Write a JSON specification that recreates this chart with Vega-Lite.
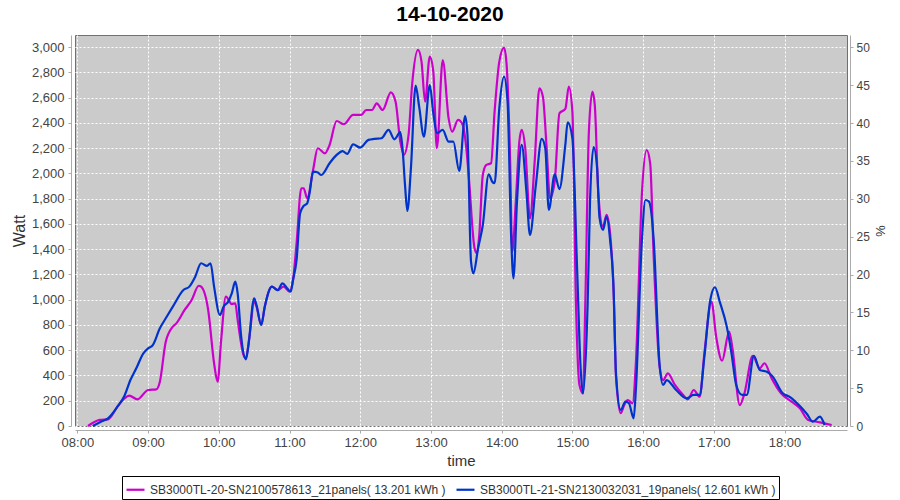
{
  "$schema": "https://vega.github.io/schema/vega-lite/v6.json",
  "width": 772,
  "height": 391,
  "autosize": {"type": "none"},
  "padding": {"left": 75, "top": 35, "right": 53, "bottom": 74},
  "background": "white",
  "title": {"text": "14-10-2020", "font": "Liberation Sans", "fontSize": 21, "fontWeight": "bold", "color": "black", "anchor": "middle", "offset": 10, "dx": -11},
  "config": {
    "font": "Liberation Sans",
    "view": {"fill": "#cbcbcb", "stroke": "#707070", "strokeWidth": 1}
  },
  "resolve": {"scale": {"y": "independent"}},
  "layer": [
    {
      "data": {
        "values": [
          {"s":"A","t":"08:09","w":0},{"s":"A","t":"08:19","w":48},{"s":"A","t":"08:26","w":53},{"s":"A","t":"08:34","w":153},{"s":"A","t":"08:40","w":219},{"s":"A","t":"08:44","w":240},{"s":"A","t":"08:51","w":211},{"s":"A","t":"09:00","w":285},{"s":"A","t":"09:07","w":290},{"s":"A","t":"09:10","w":351},{"s":"A","t":"09:15","w":668},{"s":"A","t":"09:21","w":787},{"s":"A","t":"09:24","w":813},{"s":"A","t":"09:31","w":919},{"s":"A","t":"09:37","w":998},{"s":"A","t":"09:43","w":1111},{"s":"A","t":"09:45","w":1104},{"s":"A","t":"09:51","w":919},{"s":"A","t":"09:56","w":497},{"s":"A","t":"09:59","w":351},{"s":"A","t":"10:02","w":681},{"s":"A","t":"10:06","w":1024},{"s":"A","t":"10:11","w":966},{"s":"A","t":"10:14","w":972},{"s":"A","t":"10:16","w":840},{"s":"A","t":"10:21","w":562},{"s":"A","t":"10:23","w":536},{"s":"A","t":"10:26","w":707},{"s":"A","t":"10:30","w":985},{"s":"A","t":"10:32","w":945},{"s":"A","t":"10:36","w":800},{"s":"A","t":"10:39","w":945},{"s":"A","t":"10:45","w":1104},{"s":"A","t":"10:50","w":1077},{"s":"A","t":"10:55","w":1104},{"s":"A","t":"11:00","w":1064},{"s":"A","t":"11:03","w":1157},{"s":"A","t":"11:06","w":1447},{"s":"A","t":"11:10","w":1883},{"s":"A","t":"11:12","w":1883},{"s":"A","t":"11:15","w":1804},{"s":"A","t":"11:20","w":2028},{"s":"A","t":"11:24","w":2200},{"s":"A","t":"11:30","w":2160},{"s":"A","t":"11:34","w":2226},{"s":"A","t":"11:40","w":2416},{"s":"A","t":"11:46","w":2390},{"s":"A","t":"11:54","w":2464},{"s":"A","t":"12:01","w":2464},{"s":"A","t":"12:05","w":2503},{"s":"A","t":"12:10","w":2503},{"s":"A","t":"12:14","w":2556},{"s":"A","t":"12:19","w":2503},{"s":"A","t":"12:26","w":2643},{"s":"A","t":"12:30","w":2569},{"s":"A","t":"12:34","w":2252},{"s":"A","t":"12:37","w":2147},{"s":"A","t":"12:41","w":2305},{"s":"A","t":"12:44","w":2701},{"s":"A","t":"12:49","w":2979},{"s":"A","t":"12:52","w":2886},{"s":"A","t":"12:55","w":2569},{"s":"A","t":"12:59","w":2926},{"s":"A","t":"13:02","w":2807},{"s":"A","t":"13:05","w":2200},{"s":"A","t":"13:10","w":2899},{"s":"A","t":"13:15","w":2437},{"s":"A","t":"13:18","w":2331},{"s":"A","t":"13:23","w":2424},{"s":"A","t":"13:27","w":2384},{"s":"A","t":"13:30","w":2200},{"s":"A","t":"13:32","w":1988},{"s":"A","t":"13:37","w":1408},{"s":"A","t":"13:39","w":1368},{"s":"A","t":"13:41","w":1513},{"s":"A","t":"13:44","w":1988},{"s":"A","t":"13:47","w":2068},{"s":"A","t":"13:51","w":2081},{"s":"A","t":"13:54","w":2490},{"s":"A","t":"13:58","w":2886},{"s":"A","t":"14:02","w":2997},{"s":"A","t":"14:04","w":2886},{"s":"A","t":"14:07","w":2173},{"s":"A","t":"14:09","w":1381},{"s":"A","t":"14:12","w":1777},{"s":"A","t":"14:15","w":2252},{"s":"A","t":"14:17","w":2345},{"s":"A","t":"14:20","w":2200},{"s":"A","t":"14:24","w":1645},{"s":"A","t":"14:28","w":2094},{"s":"A","t":"14:32","w":2675},{"s":"A","t":"14:35","w":2609},{"s":"A","t":"14:38","w":2226},{"s":"A","t":"14:41","w":1804},{"s":"A","t":"14:45","w":1935},{"s":"A","t":"14:49","w":2477},{"s":"A","t":"14:54","w":2511},{"s":"A","t":"14:57","w":2688},{"s":"A","t":"15:00","w":2490},{"s":"A","t":"15:03","w":985},{"s":"A","t":"15:06","w":325},{"s":"A","t":"15:09","w":259},{"s":"A","t":"15:11","w":985},{"s":"A","t":"15:14","w":2331},{"s":"A","t":"15:17","w":2648},{"s":"A","t":"15:19","w":2543},{"s":"A","t":"15:22","w":1843},{"s":"A","t":"15:26","w":1579},{"s":"A","t":"15:29","w":1672},{"s":"A","t":"15:32","w":1526},{"s":"A","t":"15:35","w":1051},{"s":"A","t":"15:37","w":391},{"s":"A","t":"15:41","w":101},{"s":"A","t":"15:44","w":166},{"s":"A","t":"15:47","w":206},{"s":"A","t":"15:51","w":180},{"s":"A","t":"15:54","w":523},{"s":"A","t":"15:59","w":1843},{"s":"A","t":"16:03","w":2186},{"s":"A","t":"16:06","w":2081},{"s":"A","t":"16:09","w":1341},{"s":"A","t":"16:14","w":470},{"s":"A","t":"16:17","w":364},{"s":"A","t":"16:21","w":417},{"s":"A","t":"16:27","w":325},{"s":"A","t":"16:34","w":246},{"s":"A","t":"16:38","w":211},{"s":"A","t":"16:43","w":285},{"s":"A","t":"16:48","w":232},{"s":"A","t":"16:52","w":576},{"s":"A","t":"16:58","w":985},{"s":"A","t":"17:02","w":707},{"s":"A","t":"17:07","w":517},{"s":"A","t":"17:13","w":747},{"s":"A","t":"17:16","w":602},{"s":"A","t":"17:22","w":166},{"s":"A","t":"17:26","w":259},{"s":"A","t":"17:33","w":555},{"s":"A","t":"17:39","w":457},{"s":"A","t":"17:43","w":497},{"s":"A","t":"17:49","w":378},{"s":"A","t":"17:57","w":259},{"s":"A","t":"18:06","w":193},{"s":"A","t":"18:13","w":140},{"s":"A","t":"18:20","w":48},{"s":"A","t":"18:27","w":34},{"s":"A","t":"18:34","w":21},{"s":"A","t":"18:40","w":8},
          {"s":"B","t":"08:13","w":0},{"s":"B","t":"08:20","w":34},{"s":"B","t":"08:26","w":61},{"s":"B","t":"08:34","w":153},{"s":"B","t":"08:40","w":240},{"s":"B","t":"08:45","w":364},{"s":"B","t":"08:50","w":457},{"s":"B","t":"08:56","w":576},{"s":"B","t":"09:00","w":615},{"s":"B","t":"09:04","w":641},{"s":"B","t":"09:10","w":774},{"s":"B","t":"09:15","w":853},{"s":"B","t":"09:21","w":945},{"s":"B","t":"09:30","w":1077},{"s":"B","t":"09:35","w":1104},{"s":"B","t":"09:40","w":1183},{"s":"B","t":"09:45","w":1289},{"s":"B","t":"09:50","w":1268},{"s":"B","t":"09:53","w":1289},{"s":"B","t":"09:56","w":1104},{"s":"B","t":"10:01","w":879},{"s":"B","t":"10:04","w":945},{"s":"B","t":"10:08","w":985},{"s":"B","t":"10:11","w":1051},{"s":"B","t":"10:14","w":1143},{"s":"B","t":"10:16","w":1051},{"s":"B","t":"10:19","w":707},{"s":"B","t":"10:23","w":528},{"s":"B","t":"10:25","w":628},{"s":"B","t":"10:30","w":1012},{"s":"B","t":"10:32","w":958},{"s":"B","t":"10:36","w":800},{"s":"B","t":"10:39","w":945},{"s":"B","t":"10:45","w":1104},{"s":"B","t":"10:50","w":1077},{"s":"B","t":"10:54","w":1130},{"s":"B","t":"10:58","w":1091},{"s":"B","t":"11:01","w":1064},{"s":"B","t":"11:03","w":1157},{"s":"B","t":"11:06","w":1315},{"s":"B","t":"11:09","w":1685},{"s":"B","t":"11:12","w":1743},{"s":"B","t":"11:15","w":1764},{"s":"B","t":"11:17","w":1843},{"s":"B","t":"11:20","w":2015},{"s":"B","t":"11:24","w":2007},{"s":"B","t":"11:27","w":1988},{"s":"B","t":"11:34","w":2081},{"s":"B","t":"11:40","w":2147},{"s":"B","t":"11:45","w":2178},{"s":"B","t":"11:49","w":2155},{"s":"B","t":"11:54","w":2231},{"s":"B","t":"12:00","w":2205},{"s":"B","t":"12:07","w":2266},{"s":"B","t":"12:12","w":2274},{"s":"B","t":"12:18","w":2279},{"s":"B","t":"12:24","w":2345},{"s":"B","t":"12:29","w":2271},{"s":"B","t":"12:34","w":2327},{"s":"B","t":"12:36","w":2186},{"s":"B","t":"12:38","w":1909},{"s":"B","t":"12:40","w":1703},{"s":"B","t":"12:43","w":2041},{"s":"B","t":"12:47","w":2696},{"s":"B","t":"12:50","w":2530},{"s":"B","t":"12:54","w":2292},{"s":"B","t":"12:59","w":2701},{"s":"B","t":"13:02","w":2477},{"s":"B","t":"13:05","w":2319},{"s":"B","t":"13:10","w":2345},{"s":"B","t":"13:15","w":2252},{"s":"B","t":"13:19","w":2252},{"s":"B","t":"13:24","w":2020},{"s":"B","t":"13:29","w":2455},{"s":"B","t":"13:31","w":2305},{"s":"B","t":"13:34","w":1302},{"s":"B","t":"13:36","w":1209},{"s":"B","t":"13:40","w":1408},{"s":"B","t":"13:44","w":1592},{"s":"B","t":"13:49","w":1994},{"s":"B","t":"13:52","w":1935},{"s":"B","t":"13:54","w":1923},{"s":"B","t":"13:58","w":2517},{"s":"B","t":"14:02","w":2767},{"s":"B","t":"14:05","w":2569},{"s":"B","t":"14:08","w":1513},{"s":"B","t":"14:10","w":1170},{"s":"B","t":"14:13","w":1777},{"s":"B","t":"14:17","w":2226},{"s":"B","t":"14:21","w":1856},{"s":"B","t":"14:24","w":1513},{"s":"B","t":"14:29","w":1909},{"s":"B","t":"14:34","w":2274},{"s":"B","t":"14:37","w":2200},{"s":"B","t":"14:40","w":1711},{"s":"B","t":"14:45","w":1994},{"s":"B","t":"14:49","w":1877},{"s":"B","t":"14:54","w":2226},{"s":"B","t":"14:56","w":2406},{"s":"B","t":"15:00","w":2279},{"s":"B","t":"15:04","w":1249},{"s":"B","t":"15:07","w":457},{"s":"B","t":"15:09","w":259},{"s":"B","t":"15:13","w":985},{"s":"B","t":"15:15","w":1790},{"s":"B","t":"15:18","w":2210},{"s":"B","t":"15:21","w":2040},{"s":"B","t":"15:23","w":1650},{"s":"B","t":"15:26","w":1553},{"s":"B","t":"15:29","w":1658},{"s":"B","t":"15:32","w":1473},{"s":"B","t":"15:35","w":1077},{"s":"B","t":"15:37","w":417},{"s":"B","t":"15:41","w":127},{"s":"B","t":"15:45","w":193},{"s":"B","t":"15:48","w":180},{"s":"B","t":"15:52","w":61},{"s":"B","t":"15:54","w":311},{"s":"B","t":"15:59","w":1473},{"s":"B","t":"16:02","w":1790},{"s":"B","t":"16:05","w":1777},{"s":"B","t":"16:09","w":1473},{"s":"B","t":"16:14","w":483},{"s":"B","t":"16:17","w":325},{"s":"B","t":"16:20","w":364},{"s":"B","t":"16:28","w":285},{"s":"B","t":"16:37","w":219},{"s":"B","t":"16:43","w":246},{"s":"B","t":"16:48","w":246},{"s":"B","t":"16:52","w":549},{"s":"B","t":"16:57","w":998},{"s":"B","t":"17:01","w":1099},{"s":"B","t":"17:05","w":985},{"s":"B","t":"17:11","w":787},{"s":"B","t":"17:15","w":576},{"s":"B","t":"17:19","w":325},{"s":"B","t":"17:24","w":246},{"s":"B","t":"17:28","w":246},{"s":"B","t":"17:34","w":555},{"s":"B","t":"17:39","w":444},{"s":"B","t":"17:45","w":430},{"s":"B","t":"17:50","w":391},{"s":"B","t":"17:58","w":264},{"s":"B","t":"18:05","w":227},{"s":"B","t":"18:13","w":158},{"s":"B","t":"18:19","w":95},{"s":"B","t":"18:24","w":34},{"s":"B","t":"18:30","w":74},{"s":"B","t":"18:34","w":8}
        ],
        "format": {"parse": {"t": "date:'%H:%M'"}}
      },
      "mark": {"type": "line", "interpolate": "monotone", "strokeWidth": 2.2},
      "encoding": {
        "x": {
          "field": "t", "type": "temporal",
          "scale": {"domain": [{"year": 1900, "month": 1, "date": 1, "hours": 7, "minutes": 58}, {"year": 1900, "month": 1, "date": 1, "hours": 18, "minutes": 53}]},
          "axis": {
            "title": "time", "format": "%H:%M", "tickCount": 11,
            "offset": 4, "domainColor": "#aaaaaa", "tickColor": "#aaaaaa", "tickSize": 3,
            "labelFontSize": 13, "labelColor": "#444444", "labelPadding": 3,
            "titleFontSize": 15, "titleFontWeight": "normal", "titleColor": "#333333", "titlePadding": 4,
            "grid": true, "gridColor": "#ffffff", "gridDash": [2, 2], "gridWidth": 1
          }
        },
        "y": {
          "field": "w", "type": "quantitative",
          "scale": {"domain": [0, 3097], "nice": false},
          "axis": {
            "title": "Watt", "values": [0,200,400,600,800,1000,1200,1400,1600,1800,2000,2200,2400,2600,2800,3000],
            "format": ",d", "offset": 4, "domainColor": "#aaaaaa", "tickColor": "#aaaaaa", "tickSize": 3,
            "labelFontSize": 13, "labelColor": "#444444", "labelPadding": 4,
            "titleFontSize": 16, "titleFontWeight": "normal", "titleColor": "#333333", "titlePadding": 4,
            "grid": true, "gridColor": "#ffffff", "gridDash": [2, 2], "gridWidth": 1
          }
        },
        "color": {
          "field": "s", "type": "nominal",
          "scale": {"domain": ["A", "B"], "range": ["#cc00cc", "#0033cc"]},
          "legend": {
            "title": null, "orient": "none", "direction": "horizontal", "legendX": 47, "legendY": 441,
            "labelExpr": "datum.value == 'A' ? 'SB3000TL-20-SN2100578613_21panels( 13.201 kWh )' : 'SB3000TL-21-SN2130032031_19panels( 12.601 kWh )'",
            "labelFontSize": 12, "labelColor": "#333333", "labelLimit": 500,
            "symbolType": "stroke", "symbolStrokeWidth": 2.2, "symbolSize": 324,
            "strokeColor": "#000000", "padding": 3, "columnPadding": 6
          }
        }
      }
    },
    {
      "data": {"values": [{"p": 0}, {"p": 50}]},
      "mark": {"type": "point", "opacity": 0},
      "encoding": {
        "y": {
          "field": "p", "type": "quantitative",
          "scale": {"domain": [0, 51.62], "nice": false},
          "axis": {
            "orient": "right", "title": "%", "values": [0,5,10,15,20,25,30,35,40,45,50],
            "offset": 3, "domainColor": "#aaaaaa", "tickColor": "#aaaaaa", "tickSize": 3,
            "labelFontSize": 12, "labelColor": "#444444", "labelPadding": 3,
            "titleFontSize": 13, "titleFontWeight": "normal", "titleColor": "#333333", "titlePadding": 3,
            "grid": false
          }
        }
      }
    }
  ]
}
